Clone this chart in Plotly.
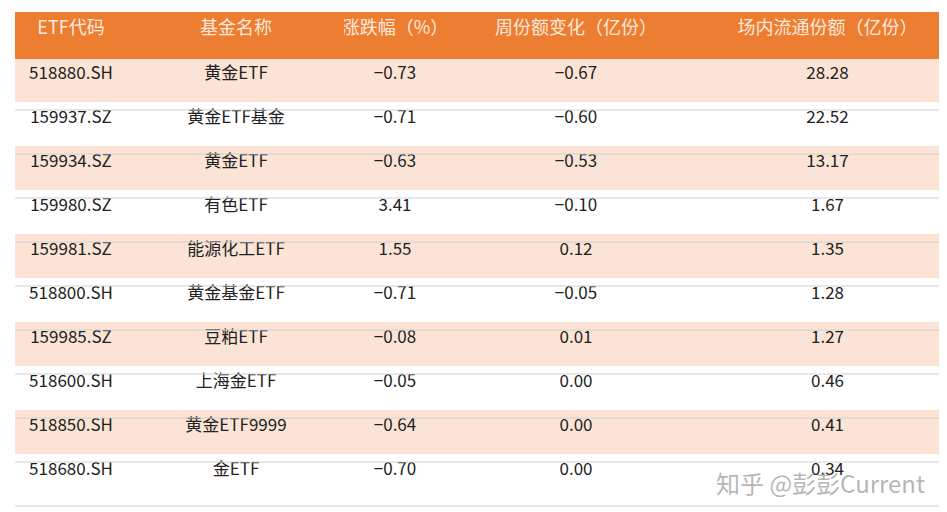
import plotly.graph_objects as go

headers = ["ETF代码", "基金名称", "涨跌幅（%）", "周份额变化（亿份）", "场内流通份额（亿份）"]
codes = ["518880.SH", "159937.SZ", "159934.SZ", "159980.SZ", "159981.SZ",
         "518800.SH", "159985.SZ", "518600.SH", "518850.SH", "518680.SH"]
names = ["黄金ETF", "黄金ETF基金", "黄金ETF", "有色ETF", "能源化工ETF",
         "黄金基金ETF", "豆粕ETF", "上海金ETF", "黄金ETF9999", "金ETF"]
change_pct = [-0.73, -0.71, -0.63, 3.41, 1.55, -0.71, -0.08, -0.05, -0.64, -0.70]
weekly_change = [-0.67, -0.60, -0.53, -0.10, 0.12, -0.05, 0.01, 0.00, 0.00, 0.00]
shares = [28.28, 22.52, 13.17, 1.67, 1.35, 1.28, 1.27, 0.46, 0.41, 0.34]


def fmt(v):
    return f"{v:.2f}".replace("-", "−")


row_fill = ["#fbe4d5" if i % 2 == 0 else "#ffffff" for i in range(len(codes))]
font = "Noto Sans CJK SC"

fig = go.Figure(go.Table(
    columnwidth=[112, 218, 100, 262, 241],
    header=dict(values=headers, fill_color="#ed7d31", height=46, align="center",
                line=dict(color="#ed7d31", width=1),
                font=dict(family=font, size=18, color="#fdeade")),
    cells=dict(values=[codes, names, [fmt(v) for v in change_pct],
                       [fmt(v) for v in weekly_change], [fmt(v) for v in shares]],
               fill_color=[row_fill] * 5, height=44, align="center",
               line=dict(color=[row_fill] * 5, width=1),
               font=dict(family=font, size=17, color="#222222")),
    domain=dict(x=[7 / 947, 940 / 947], y=[0, 508 / 512]),
))

# thin grey separators between body rows
top, hh, rh = 12, 46, 44
for i in range(len(codes)):
    y = 512 - (top + hh + rh * (i + 1))
    fig.add_shape(type="line", xref="paper", yref="paper", x0=7 / 947, x1=940 / 947,
                  y0=y / 512, y1=y / 512, line=dict(color="#d0d0d0", width=1))

fig.add_annotation(text="知乎 @彭彭Current", x=0.97, y=0.035, xref="paper", yref="paper",
                   xanchor="right", showarrow=False,
                   font=dict(family=font, size=24, color="rgba(150,150,150,0.7)"))

fig.update_layout(width=947, height=512, margin=dict(l=0, r=0, t=0, b=0),
                  paper_bgcolor="white")
fig.write_html("out.html")
